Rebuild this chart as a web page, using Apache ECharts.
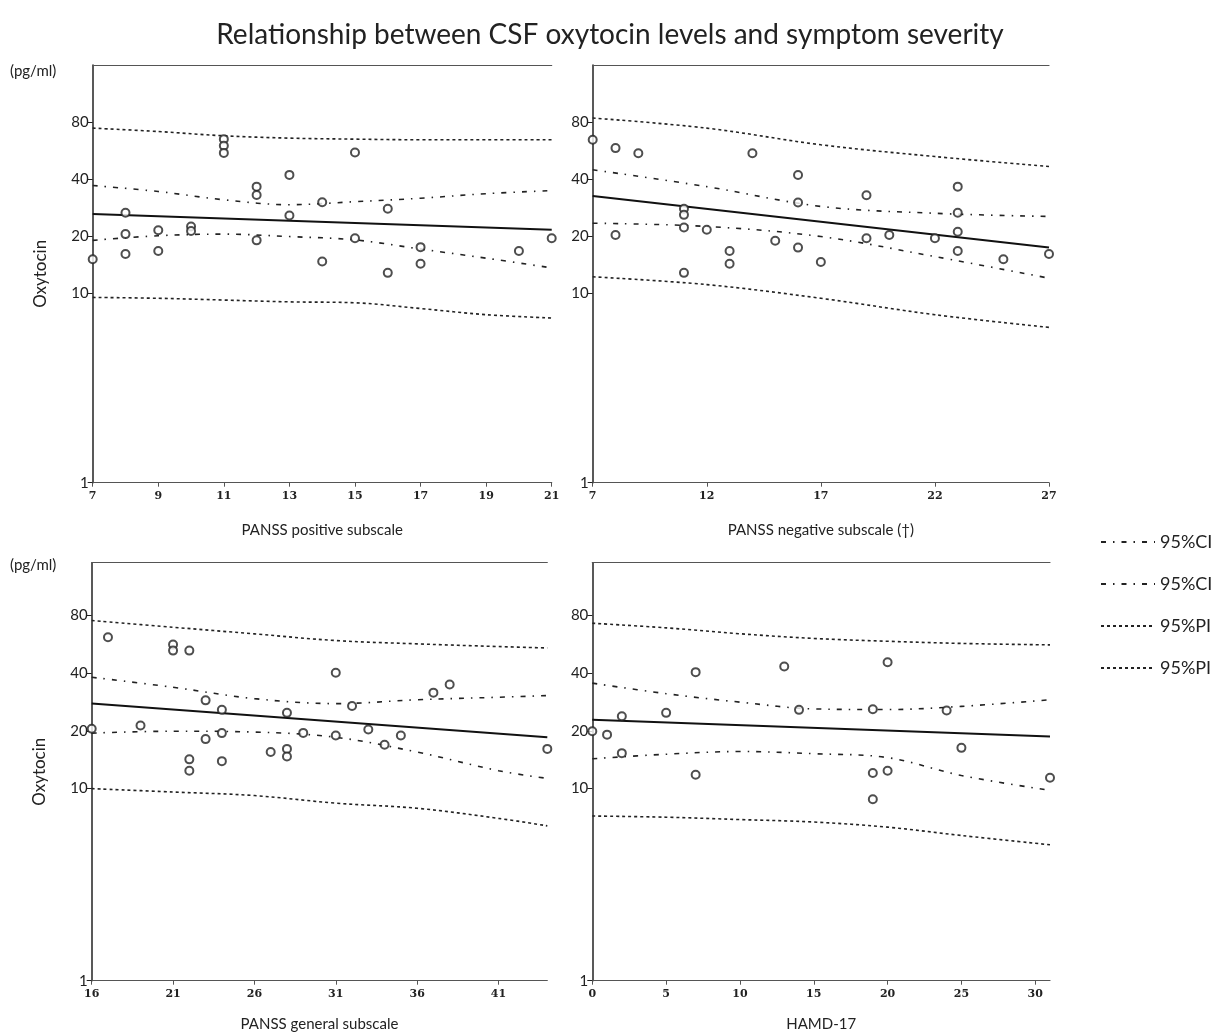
<!DOCTYPE html>
<html>
<head>
<meta charset="utf-8">
<script src="https://cdn.jsdelivr.net/npm/echarts@6/dist/echarts.min.js"></script>
<style>html,body{margin:0;padding:0;background:#fff;}#c{width:1220px;height:1035px;}</style>
</head>
<body>
<div id="c"></div>
<script>
// ---- tick labels ----
const yTicks = [1, 10, 20, 40, 80];
const posTicks = [7, 9, 11, 13, 15, 17, 19, 21];
const negTicks = [7, 12, 17, 22, 27];
const genTicks = [16, 21, 26, 31, 36, 41];
const hamTicks = [0, 5, 10, 15, 20, 25, 30];

// ---- PANSS positive ----
const posX = [7,8,8,8,9,9,10,10,11,11,11,12,12,12,13,13,14,14,15,15,16,16,17,17,20,21];
const posY = [15.1,26.6,20.5,16.1,21.5,16.7,22.5,21.3,65,60,55,36.5,33,19,42.1,25.7,30.2,14.7,55.2,19.5,27.9,12.8,17.5,14.3,16.7,19.5];
const posRegX = [7, 21];
const posReg = [26.2, 21.6];
const posBandX = [7, 9, 11, 13, 15, 17, 19, 21];
const posCIu = [37, 34.4, 31.1, 29.3, 30.4, 31.7, 33.5, 34.8];
const posCIl = [19, 20.1, 20.5, 19.9, 19.1, 17.1, 15.3, 13.6];
const posPIu = [74.3, 71.3, 67.7, 65.8, 65, 64.5, 64.5, 64.5];
const posPIl = [9.5, 9.4, 9.2, 9.0, 8.9, 8.3, 7.7, 7.4];

// ---- PANSS negative ----
const negX = [7,8,8,9,11,11,11,11,12,13,13,14,15,16,16,16,17,19,19,20,22,23,23,23,23,25,27];
const negY = [64.5,58.3,20.3,54.8,27.9,25.9,22.2,12.8,21.6,16.7,14.3,54.8,18.9,42,30.1,17.4,14.6,32.9,19.5,20.3,19.5,36.5,26.6,21.1,16.7,15.1,16.1];
const negRegX = [7, 27];
const negReg = [32.6, 17.4];
const negBandX = [7, 12, 17, 22, 27];
const negCIu = [44.8, 36.5, 28.7, 26.4, 25.4];
const negCIl = [23.4, 22.5, 19.9, 15.6, 12.0];
const negPIu = [84, 74.3, 60.7, 52.6, 46.6];
const negPIl = [12.2, 11.1, 9.4, 7.7, 6.6];

// ---- PANSS general ----
const genX = [16,17,19,21,21,22,22,22,23,23,24,24,24,27,28,28,28,29,31,31,32,33,34,35,37,38,44];
const genY = [20.5,61.4,21.3,56.2,52.3,52.3,14.2,12.4,28.8,18.1,25.7,19.45,13.9,15.5,24.8,16.1,14.7,19.5,40.1,18.9,26.9,20.3,16.9,18.9,31.6,34.8,16.1];
const genRegX = [16, 44];
const genReg = [27.7, 18.5];
const genBandX = [16, 21, 26, 31, 36, 41, 44];
const genCIu = [38, 33.7, 29.4, 27.7, 29, 29.9, 30.5];
const genCIl = [19.45, 19.9, 19.7, 18.5, 15.5, 12.4, 11.3];
const genPIu = [75, 69.2, 63.9, 59, 56.7, 54.9, 54];
const genPIl = [10, 9.6, 9.2, 8.4, 7.9, 7.0, 6.4];

// ---- HAMD-17 ----
const hamX = [0,1,2,2,5,7,7,13,14,19,19,19,20,20,24,25,31];
const hamY = [19.9,19.1,23.8,15.3,24.8,40.4,11.8,43.2,25.7,25.9,12.05,8.8,45.5,12.4,25.5,16.3,11.4];
const hamRegX = [0, 31];
const hamReg = [22.8, 18.7];
const hamBandX = [0, 5, 10, 15, 20, 25, 31];
const hamCIu = [35.4, 31.2, 28.2, 26.0, 25.8, 26.8, 29];
const hamCIl = [14.3, 15.1, 15.6, 15.2, 14.5, 11.7, 9.8];
const hamPIu = [72.6, 68.7, 64, 60.5, 58.5, 57, 56];
const hamPIl = [7.2, 7.1, 6.9, 6.7, 6.3, 5.7, 5.1];

const FONT = 'Lato';
const zip = (a, b) => a.map((v, i) => [v, b[i]]);

const panels = [
  {grid:{left:92.7, top:65, width:459, height:417.7}, xmin:7, xmax:21, ticks:posTicks, ymax:160,
   name:'PANSS positive subscale', yname:'Oxytocin', nameGap:40,
   x:posX, y:posY, rx:posRegX, r:posReg, bx:posBandX, ciu:posCIu, cil:posCIl, piu:posPIu, pil:posPIl},
  {grid:{left:592.7, top:65, width:456.3, height:417.7}, xmin:7, xmax:27, ticks:negTicks, ymax:160,
   name:'PANSS negative subscale (\u2020)', yname:'', nameGap:40,
   x:negX, y:negY, rx:negRegX, r:negReg, bx:negBandX, ciu:negCIu, cil:negCIl, piu:negPIu, pil:negPIl},
  {grid:{left:91.7, top:562.7, width:455.6, height:418}, xmin:16, xmax:44, ticks:genTicks, ymax:150,
   name:'PANSS general subscale', yname:'Oxytocin', nameGap:36,
   x:genX, y:genY, rx:genRegX, r:genReg, bx:genBandX, ciu:genCIu, cil:genCIl, piu:genPIu, pil:genPIl},
  {grid:{left:592.3, top:562.7, width:457.7, height:418}, xmin:0, xmax:31, ticks:hamTicks, ymax:150,
   name:'HAMD-17', yname:'', nameGap:36,
   x:hamX, y:hamY, rx:hamRegX, r:hamReg, bx:hamBandX, ciu:hamCIu, cil:hamCIl, piu:hamPIu, pil:hamPIl}
];

const CI_DASH = [5, 7, 1.5, 7];
const PI_DASH = [3, 3];
const grid = [], xAxis = [], yAxis = [], series = [];
panels.forEach((p, i) => {
  grid.push(p.grid);
  xAxis.push({
    type:'value', gridIndex:i, min:p.xmin, max:p.xmax, position:'bottom',
    name:p.name, nameLocation:'middle', nameGap:p.nameGap,
    nameTextStyle:{fontFamily:FONT, fontSize:15, color:'#222'},
    axisLine:{show:true, onZero:false, lineStyle:{color:'#555', width:1.2}},
    axisTick:{show:true, length:4, customValues:p.ticks, lineStyle:{color:'#555'}},
    axisLabel:{customValues:p.ticks, fontFamily:'DejaVu Serif', fontWeight:'bold', fontSize:11, color:'#222', margin:8},
    splitLine:{show:false}
  });
  xAxis.push({
    type:'value', gridIndex:i, min:p.xmin, max:p.xmax, position:'top',
    axisLine:{show:true, onZero:false, lineStyle:{color:'#555', width:1.2}},
    axisTick:{show:false}, axisLabel:{show:false}, splitLine:{show:false}
  });
  yAxis.push({
    type:'log', logBase:10, gridIndex:i, min:1, max:p.ymax,
    name:p.yname, nameLocation:'middle', nameGap:44, nameRotate:90,
    nameTextStyle:{fontFamily:FONT, fontSize:17, color:'#222'},
    axisLine:{show:true, onZero:false, lineStyle:{color:'#222', width:1.5}},
    axisTick:{show:true, length:5, customValues:yTicks, lineStyle:{color:'#222'}},
    axisLabel:{customValues:yTicks, fontFamily:FONT, fontSize:15, color:'#222', margin:4},
    splitLine:{show:false}, minorTick:{show:false}
  });
  const base = {xAxisIndex:2*i, yAxisIndex:i, type:'line', symbol:'none', silent:true, animation:false,
    itemStyle:{color:'#222'}};
  series.push(Object.assign({}, base, {name:'95%CI', data:zip(p.bx, p.ciu), smooth:0.35,
    lineStyle:{color:'#222', width:1.6, type:CI_DASH}}));
  series.push(Object.assign({}, base, {name:'95%CI ', data:zip(p.bx, p.cil), smooth:0.35,
    lineStyle:{color:'#222', width:1.6, type:CI_DASH}}));
  series.push(Object.assign({}, base, {name:'95%PI', data:zip(p.bx, p.piu), smooth:0.35,
    lineStyle:{color:'#222', width:1.6, type:PI_DASH}}));
  series.push(Object.assign({}, base, {name:'95%PI ', data:zip(p.bx, p.pil), smooth:0.35,
    lineStyle:{color:'#222', width:1.6, type:PI_DASH}}));
  series.push(Object.assign({}, base, {name:'fit'+i, data:zip(p.rx, p.r),
    lineStyle:{color:'#111', width:2, type:'solid'}}));
  series.push({name:'obs'+i, type:'scatter', xAxisIndex:2*i, yAxisIndex:i, data:zip(p.x, p.y),
    symbol:'emptyCircle', symbolSize:8, silent:true, animation:false, z:5,
    itemStyle:{color:'#222', borderWidth:1.6}});
});

const chart = echarts.init(document.getElementById('c'), null, {renderer:'canvas'});
chart.setOption({
  backgroundColor:'#fff',
  animation:false,
  title:{text:'Relationship between CSF oxytocin levels and symptom severity', left:'center', top:16,
    textStyle:{fontFamily:FONT, fontSize:28, fontWeight:'normal', color:'#222'}},
  legend:{data:['95%CI','95%CI ','95%PI','95%PI '], orient:'vertical', left:1095, top:528,
    itemWidth:54, itemHeight:16, itemGap:24, formatter:n => n.trim(),
    itemStyle:{color:'rgba(0,0,0,0)', borderWidth:0, opacity:0},
    textStyle:{fontFamily:FONT, fontSize:18, color:'#222'}},
  graphic:[
    {type:'text', left:10, top:64, style:{text:'(pg/ml)', font:'15px Lato', fill:'#222'}},
    {type:'text', left:10, top:558, style:{text:'(pg/ml)', font:'15px Lato', fill:'#222'}}
  ],
  grid, xAxis, yAxis, series
});
</script>
</body>
</html>
